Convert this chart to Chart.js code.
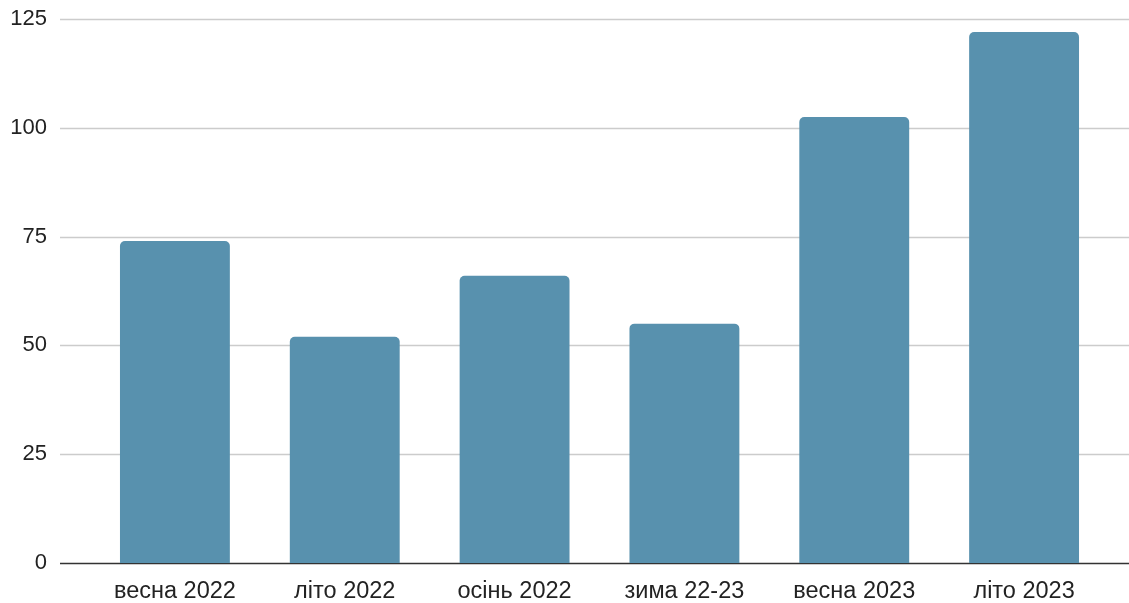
<!DOCTYPE html>
<html>
<head>
<meta charset="utf-8">
<script src="https://cdn.jsdelivr.net/npm/chart.js@4"></script>
<style>
  html, body { margin: 0; padding: 0; background: #fff; }
  #wrap { width: 1129px; height: 603px; }
</style>
</head>
<body>
<div id="wrap"><canvas id="chart"></canvas></div>
<script>
const seasons = ['весна 2022', 'літо 2022', 'осінь 2022', 'зима 22-23', 'весна 2023', 'літо 2023'];
const values = [74, 52, 66, 55, 102.5, 122];
const yTicks = [0, 25, 50, 75, 100, 125];

// grid lines run wider than the bars, so draw them by hand
const wideGrid = {
  id: 'wideGrid',
  beforeDatasetsDraw(chart) {
    const { ctx, scales: { y } } = chart;
    const left = chart.chartArea.left - 30;
    ctx.save();
    yTicks.forEach(v => {
      const py = Math.round(y.getPixelForValue(v)) + 0.5;
      ctx.beginPath();
      ctx.strokeStyle = v === 0 ? '#333333' : '#cccccc';
      ctx.lineWidth = 1.5;
      ctx.moveTo(left, py);
      ctx.lineTo(chart.width, py);
      ctx.stroke();
    });
    ctx.restore();
  }
};

new Chart(document.getElementById('chart'), {
  type: 'bar',
  data: {
    labels: seasons,
    datasets: [{
      data: values,
      backgroundColor: '#5891ae',
      borderRadius: 5,
      borderSkipped: 'bottom',
      categoryPercentage: 1,
      barPercentage: 0.647
    }]
  },
  options: {
    responsive: true,
    maintainAspectRatio: false,
    animation: false,
    layout: { padding: { top: 19, right: 20, left: 0, bottom: 0 } },
    plugins: { legend: { display: false }, tooltip: { enabled: false } },
    scales: {
      x: {
        grid: { display: false, drawTicks: false },
        border: { display: false },
        ticks: { color: '#222', padding: 14, font: { family: 'Liberation Sans, Arial', size: 23.5 } },
        afterFit(scale) { scale.height = 40; }
      },
      y: {
        min: 0,
        max: 125,
        afterBuildTicks(scale) { scale.ticks = yTicks.map(v => ({ value: v })); },
        grid: { display: false, drawTicks: false },
        border: { display: false },
        ticks: { color: '#222', padding: 43, font: { family: 'Liberation Sans, Arial', size: 22 } },
        afterFit(scale) {
          scale.width = 90;
          scale.paddingTop = 12;
          scale.paddingBottom = 12;
        }
      }
    }
  },
  plugins: [wideGrid]
});
</script>
</body>
</html>
